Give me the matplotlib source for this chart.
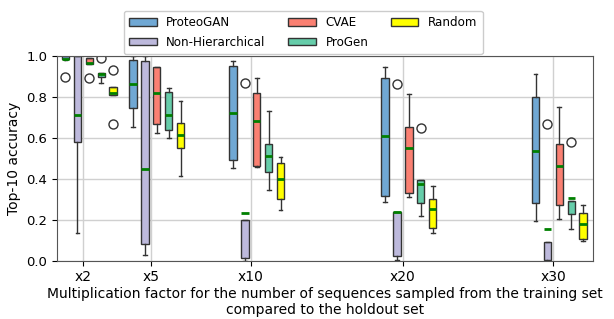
import matplotlib
matplotlib.use('Agg')
import matplotlib.pyplot as plt
from matplotlib.patches import Patch

models = ['ProteoGAN', 'Non-Hierarchical', 'CVAE', 'ProGen', 'Random']
colors = ['#70a8d4', '#bdb9dc', '#fa8072', '#66cdaa', '#ffff00']
factor_labels = ['x2', 'x5', 'x10', 'x20', 'x30']
# group positions (axis is not linear in the factor)
factor_pos = [0.0, 4.46, 11.08, 21.15, 31.12]

# per model, per factor: (whislo, q1, med, q3, whishi, fliers)
proteogan = [
    (0.98, 0.985, 0.984, 1.0, 1.0, [0.90]),
    (0.652, 0.745, 0.862, 0.98, 1.0, []),
    (0.451, 0.492, 0.723, 0.951, 0.976, []),
    (0.288, 0.318, 0.609, 0.891, 0.948, []),
    (0.194, 0.283, 0.536, 0.801, 0.915, []),
]
non_hierarchical = [
    (0.137, 0.581, 0.71, 1.0, 1.0, []),
    (0.028, 0.0815, 0.446, 0.977, 1.0, []),
    (0.0, 0.015, 0.235, 0.199, 0.199, [0.867]),
    (0.003, 0.023, 0.236, 0.239, 0.239, [0.862]),
    (0.0, 0.003, 0.155, 0.093, 0.093, [0.666]),
]
cvae = [
    (0.96, 0.962, 0.967, 0.99, 0.99, [0.895]),
    (0.622, 0.668, 0.821, 0.945, 0.945, []),
    (0.456, 0.463, 0.684, 0.818, 0.894, []),
    (0.31, 0.329, 0.552, 0.652, 0.813, []),
    (0.204, 0.274, 0.463, 0.569, 0.752, []),
]
progen = [
    (0.867, 0.898, 0.912, 0.92, 0.92, [0.99]),
    (0.598, 0.639, 0.712, 0.826, 0.842, []),
    (0.344, 0.435, 0.510, 0.570, 0.731, []),
    (0.218, 0.280, 0.375, 0.394, 0.394, [0.647]),
    (0.156, 0.228, 0.305, 0.293, 0.293, [0.581]),
]
random_ = [
    (0.81, 0.812, 0.82, 0.85, 0.85, [0.93, 0.67]),
    (0.415, 0.549, 0.614, 0.674, 0.78, []),
    (0.248, 0.301, 0.401, 0.479, 0.505, []),
    (0.134, 0.158, 0.251, 0.303, 0.365, []),
    (0.096, 0.104, 0.179, 0.234, 0.274, []),
]
all_stats = [proteogan, non_hierarchical, cvae, progen, random_]

fig = plt.figure(figsize=(6.14, 3.19), dpi=100)
ax = fig.add_axes([0.093, 0.183, 0.873, 0.641])

step = 0.79
width = 0.5
for i, (stats, color) in enumerate(zip(all_stats, colors)):
    bxp_stats = []
    for s in stats:
        bxp_stats.append(dict(whislo=s[0], q1=s[1], med=s[2], q3=s[3], whishi=s[4], fliers=s[5]))
    positions = [p + (i - 1.5) * step for p in factor_pos]
    ax.bxp(bxp_stats, positions=positions, widths=width, patch_artist=True,
           showfliers=True, manage_ticks=False,
           boxprops=dict(facecolor=color, edgecolor='#333333', linewidth=1.0),
           medianprops=dict(color='green', linewidth=2),
           whiskerprops=dict(color='#333333', linewidth=1.0),
           capprops=dict(color='#333333', linewidth=1.0),
           flierprops=dict(marker='o', markerfacecolor='none', markeredgecolor='#333333',
                           markersize=6.5, markeredgewidth=1.0))

ax.set_xticks(factor_pos)
ax.set_xticklabels(factor_labels, fontsize=10)
ax.set_xlim(-1.74, 33.75)
ax.set_ylim(0, 1.0)
ax.set_yticks([0, 0.2, 0.4, 0.6, 0.8, 1.0])
ax.tick_params(labelsize=9.5)
ax.tick_params(axis='x', labelsize=10)
ax.grid(True, color='#d0d0d0', linewidth=1.0)
ax.set_axisbelow(True)
for sp in ax.spines.values():
    sp.set_color('#555555')

ax.set_ylabel('Top-10 accuracy', fontsize=10)
ax.set_xlabel('Multiplication factor for the number of sequences sampled from the training set\n'
              'compared to the holdout set', fontsize=10, labelpad=2)

handles = [Patch(facecolor=c, edgecolor='#333333', label=m) for m, c in zip(models, colors)]
fig.legend(handles=handles, ncol=3, loc='upper center', bbox_to_anchor=(0.494, 0.985),
           fontsize=8.6, handlelength=2.3, handleheight=0.6, handletextpad=0.8,
           columnspacing=1.9, labelspacing=0.55, borderpad=0.45, framealpha=1.0,
           edgecolor='#cccccc')

fig.savefig('out.png', dpi=100)
